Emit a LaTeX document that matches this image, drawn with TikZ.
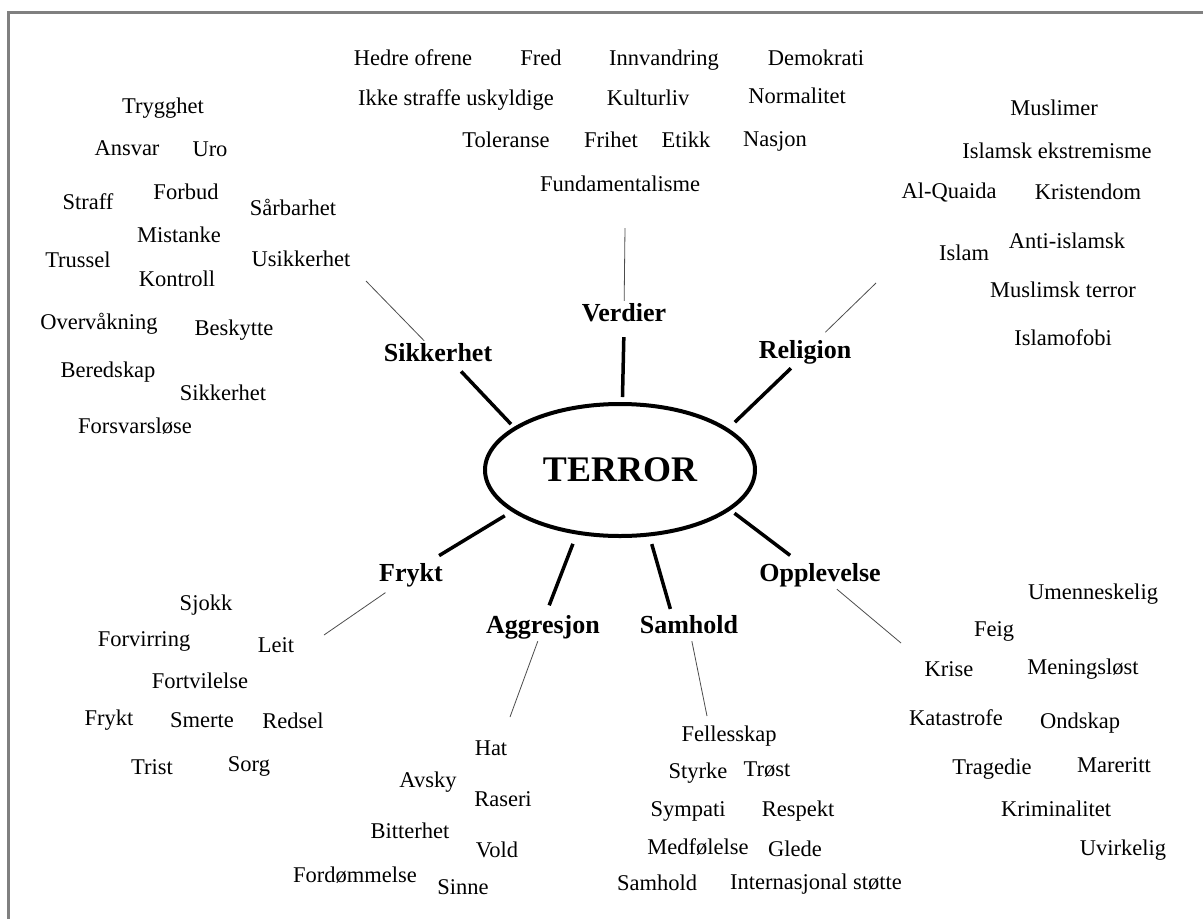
\documentclass[tikz,border=0pt]{standalone}
\usepackage{fontspec}
\setmainfont{Liberation Serif}
\usetikzlibrary{shapes.geometric}

\begin{document}
\begin{tikzpicture}[x=1pt, y=-1pt]

	\tikzstyle{word} = [font=\fontsize{22.5}{27}\selectfont, inner sep=1pt, text height=15.5pt, text depth=4.5pt]
	\tikzstyle{topic} = [font=\bfseries\fontsize{26}{30}\selectfont, inner sep=2pt, text height=18pt, text depth=6pt]
	\tikzstyle{core} = [ellipse, draw=black, line width=4pt, minimum width=270pt, minimum height=132pt, font=\bfseries\fontsize{36}{40}\selectfont]
	\tikzstyle{spoke} = [line width=3.5pt]
	\tikzstyle{twig} = [line width=0.8pt, draw=black!70]

	\useasboundingbox (0,0) rectangle (1203,919);
	\draw[draw=black!50, line width=3pt] (1203,12) -- (8,12) -- (8,919);

%------------------------------------------------------------
	\node[core] (t) at (620,470) {TERROR};
%------------------------------------------------------------
	\node[topic] (ver) at (624,315) {Verdier};
	\coordinate (verT) at (625,228);

	\node[word] (ver1) at (413,60) {Hedre ofrene};
	\node[word] (ver2) at (541,60) {Fred};
	\node[word] (ver3) at (664,60) {Innvandring};
	\node[word] (ver4) at (816,60) {Demokrati};
	\node[word] (ver5) at (456,100) {Ikke straffe uskyldige};
	\node[word] (ver6) at (648,100) {Kulturliv};
	\node[word] (ver7) at (797,98) {Normalitet};
	\node[word] (ver8) at (506,142) {Toleranse};
	\node[word] (ver9) at (611,142) {Frihet};
	\node[word] (ver10) at (686,142) {Etikk};
	\node[word] (ver11) at (775,141) {Nasjon};
	\node[word] (ver12) at (620,186) {Fundamentalisme};

	\draw[spoke, shorten <=8pt, shorten >=5pt] (ver.south) -- (t.88);
	\draw[twig] (ver) -- (verT);
%------------------------------------------------------------
	\node[topic] (sik) at (438,355) {Sikkerhet};
	\coordinate (sikT) at (366,281);

	\node[word] (sik1) at (163,108) {Trygghet};
	\node[word] (sik2) at (127,150) {Ansvar};
	\node[word] (sik3) at (210,151) {Uro};
	\node[word] (sik4) at (88,204) {Straff};
	\node[word] (sik5) at (186,194) {Forbud};
	\node[word] (sik6) at (293,210) {Sårbarhet};
	\node[word] (sik7) at (179,237) {Mistanke};
	\node[word] (sik8) at (78,262) {Trussel};
	\node[word] (sik9) at (301,261) {Usikkerhet};
	\node[word] (sik10) at (177,281) {Kontroll};
	\node[word] (sik11) at (99,324) {Overvåkning};
	\node[word] (sik12) at (234,330) {Beskytte};
	\node[word] (sik13) at (108,372) {Beredskap};
	\node[word] (sik14) at (223,395) {Sikkerhet};
	\node[word] (sik15) at (135,428) {Forsvarsløse};

	\draw[spoke, shorten <=3pt, shorten >=4pt] (sik.-34) -- (t.158);
	\draw[twig] (sik) -- (sikT);
%------------------------------------------------------------
	\node[topic] (rel) at (805,352) {Religion};
	\coordinate (relT) at (876,283);

	\node[word] (rel1) at (1054,110) {Muslimer};
	\node[word] (rel2) at (1057,153) {Islamsk ekstremisme};
	\node[word] (rel3) at (949,193) {Al-Quaida};
	\node[word] (rel4) at (1088,194) {Kristendom};
	\node[word] (rel5) at (964,255) {Islam};
	\node[word] (rel6) at (1067,243) {Anti-islamsk};
	\node[word] (rel7) at (1063,292) {Muslimsk terror};
	\node[word] (rel8) at (1063,340) {Islamofobi};

	\draw[spoke, shorten <=3pt, shorten >=9pt] (rel.230) -- (t.21);
	\draw[twig, shorten <=8pt] (rel) -- (relT);
%------------------------------------------------------------
	\node[topic] (fry) at (411,575) {Frykt};
	\coordinate (fryT) at (324,635);

	\node[word] (fry1) at (206,605) {Sjokk};
	\node[word] (fry2) at (144,641) {Forvirring};
	\node[word] (fry3) at (276,647) {Leit};
	\node[word] (fry4) at (200,683) {Fortvilelse};
	\node[word] (fry5) at (109,720) {Frykt};
	\node[word] (fry6) at (202,722) {Smerte};
	\node[word] (fry7) at (293,723) {Redsel};
	\node[word] (fry8) at (152,769) {Trist};
	\node[word] (fry9) at (249,766) {Sorg};

	\draw[spoke, shorten <=10pt, shorten >=8pt] (fry.36) -- (t.201);
	\draw[twig, shorten <=6pt] (fry) -- (fryT);
%------------------------------------------------------------
	\node[topic] (agg) at (543,627) {Aggresjon};
	\coordinate (aggT) at (510,717);

	\node[word] (agg1) at (491,750) {Hat};
	\node[word] (agg2) at (428,782) {Avsky};
	\node[word] (agg3) at (503,801) {Raseri};
	\node[word] (agg4) at (410,833) {Bitterhet};
	\node[word] (agg5) at (497,852) {Vold};
	\node[word] (agg6) at (355,877) {Fordømmelse};
	\node[word] (agg7) at (463,889) {Sinne};

	\draw[spoke, shorten <=8pt, shorten >=10pt] (agg.77) -- (t.236);
	\draw[twig] (agg) -- (aggT);
%------------------------------------------------------------
	\node[topic] (sam) at (689,627) {Samhold};
	\coordinate (samT) at (707,716);

	\node[word] (sam1) at (729,736) {Fellesskap};
	\node[word] (sam2) at (698,773) {Styrke};
	\node[word] (sam3) at (767,771) {Trøst};
	\node[word] (sam4) at (688,811) {Sympati};
	\node[word] (sam5) at (798,811) {Respekt};
	\node[word] (sam6) at (698,849) {Medfølelse};
	\node[word] (sam7) at (795,851) {Glede};
	\node[word] (sam8) at (657,885) {Samhold};
	\node[word] (sam9) at (816,884) {Internasjonal støtte};

	\draw[spoke, shorten <=4pt, shorten >=8pt] (sam.141) -- (t.294);
	\draw[twig] (sam) -- (samT);
%------------------------------------------------------------
	\node[topic] (opp) at (820,575) {Opplevelse};
	\coordinate (oppT) at (901,643);

	\node[word] (opp1) at (1093,594) {Umenneskelig};
	\node[word] (opp2) at (994,631) {Feig};
	\node[word] (opp3) at (949,671) {Krise};
	\node[word] (opp4) at (1083,669) {Meningsløst};
	\node[word] (opp5) at (956,720) {Katastrofe};
	\node[word] (opp6) at (1080,723) {Ondskap};
	\node[word] (opp7) at (992,769) {Tragedie};
	\node[word] (opp8) at (1114,767) {Mareritt};
	\node[word] (opp9) at (1056,811) {Kriminalitet};
	\node[word] (opp10) at (1123,850) {Uvirkelig};

	\draw[spoke, shorten <=9pt, shorten >=5pt] (opp.148) -- (t.340);
	\draw[twig] (opp) -- (oppT);

\end{tikzpicture}
\end{document}
